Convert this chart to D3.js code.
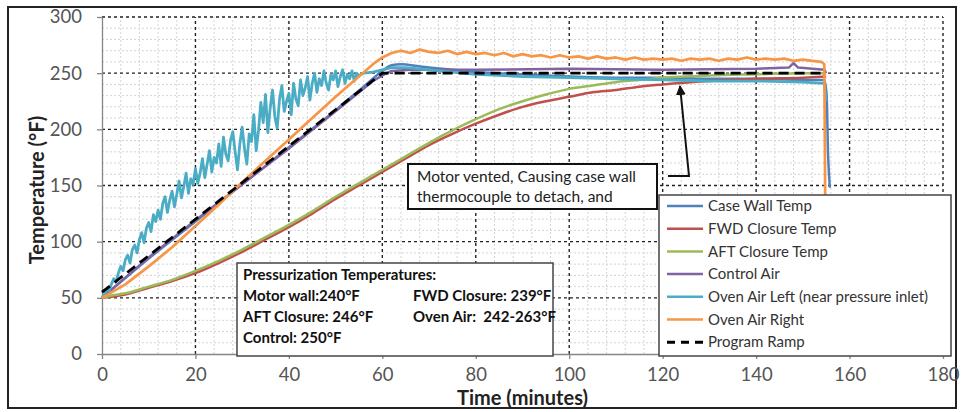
<!DOCTYPE html>
<html lang="en">
<head>
<meta charset="UTF-8" />
<title>Temperature vs Time</title>
<script src="https://d3js.org/d3.v7.min.js"></script>
<style>
  body { margin: 0; background: #fff; }
  svg { font-family: Lato, "Open Sans", sans-serif; }
</style>
</head>
<body>
<svg></svg>
<script>
var width = 963;
var height = 412;
var margin = { top: 17, right: 20, bottom: 58, left: 102 };

// ---- data (minutes, degF) ----
var rampTime = [0, 60, 155];
var rampTemp = [55, 250, 250];

var caseTime = [0, 10, 20, 30, 40, 50, 56, 60, 62, 64, 68, 75, 80, 90, 100, 110, 120, 130, 140, 150, 154.6, 155.1, 155.4, 155.6, 155.8];
var caseTemp = [50, 85, 118, 151, 184, 217, 238, 252, 257, 258, 256, 253, 251, 249, 247, 246, 246, 245, 245, 244, 244, 230, 178, 160, 148];

var fwdTime = [0, 2, 5, 10, 15, 20, 25, 30, 35, 40, 45, 50, 55, 60, 65, 70, 75, 80, 85, 90, 95, 100, 105, 110, 115, 120, 130, 140, 150, 155];
var fwdTemp = [50, 51, 53, 59, 65, 72, 81, 91, 102, 113, 125, 138, 150, 162, 174, 186, 196, 205, 213, 220, 225, 229, 233, 235, 238, 240, 243, 245, 246, 247];

var aftTime = [0, 2, 5, 10, 15, 20, 25, 30, 35, 40, 45, 50, 55, 60, 65, 70, 75, 80, 85, 90, 95, 100, 105, 110, 115, 120, 130, 140, 150, 155];
var aftTemp = [50, 52, 54, 60, 66, 74, 83, 93, 104, 115, 127, 140, 152, 164, 176, 188, 199, 209, 218, 225, 231, 236, 239, 242, 244, 246, 248, 249, 250, 250];

var controlTime = [0, 10, 20, 30, 40, 50, 58, 60, 62, 66, 80, 100, 120, 140, 147, 148, 149, 154.6, 155];
var controlTemp = [50, 86, 119, 151, 183, 216, 243, 248, 252, 253, 253, 254, 253, 254, 255, 259, 255, 253, 250];

var ovenLeftTime = [
  0, 0.5, 1, 1.5, 2, 2.5, 3, 3.5, 4, 4.5, 5, 5.5, 6, 6.5, 7, 7.5, 8, 8.5, 9, 9.5,
  10, 10.5, 11, 11.5, 12, 12.5, 13, 13.5, 14, 14.5, 15, 15.5, 16, 16.5, 17, 17.5, 18, 18.5, 19, 19.5,
  20, 20.5, 21, 21.5, 22, 22.5, 23, 23.5, 24, 24.5, 25, 25.5, 26, 26.5, 27, 27.5, 28, 28.5, 29, 29.5,
  30, 30.5, 31, 31.5, 32, 32.5, 33, 33.5, 34, 34.5, 35, 35.5, 36, 36.5, 37, 37.5, 38, 38.5, 39, 39.5,
  40, 40.5, 41, 41.5, 42, 42.5, 43, 43.5, 44, 44.5, 45, 45.5, 46, 46.5, 47, 47.5, 48, 48.5, 49, 49.5,
  50, 50.5, 51, 51.5, 52, 52.5, 53, 53.5, 54, 54.5, 55,
  56, 58, 60, 62, 65, 70, 75, 80, 90, 100, 110, 120, 130, 140, 150, 154.6, 155];
var ovenLeftTemp = [
  50, 53, 57, 56, 62, 67, 64, 72, 78, 74, 84, 88, 81, 93, 97, 90, 102, 108, 99, 112,
  117, 109, 124, 118, 128, 120, 134, 140, 126, 137, 145, 131, 142, 154, 139, 149, 161, 143, 156, 151,
  165, 152, 161, 174, 157, 169, 181, 162, 175, 170, 187, 167, 193, 178, 172, 190, 198, 180, 164, 187,
  202, 183, 169, 196, 189, 213, 181, 199, 224, 206, 231, 197, 219, 235, 211, 201, 227, 239, 216, 225,
  232, 213, 241, 227, 221, 244, 230, 237, 247, 226, 241, 250, 233, 245, 239, 252, 241, 235, 249, 244,
  252, 238, 247, 253, 241, 249, 245, 252, 243, 250, 248,
  250, 251, 253, 255, 255, 253, 251, 249, 247, 246, 245, 244, 243, 243, 242, 241, 225];

var ovenRightTime = [0, 5, 10, 15, 20, 25, 30, 35, 40, 45, 50, 55, 58, 60, 62,
  64, 66, 68, 70, 72, 74, 76, 78, 80, 82, 84, 86, 88, 90, 92, 94, 96, 98, 100, 102, 104, 106, 108,
  110, 112, 114, 116, 118, 120, 122, 124, 126, 128, 130, 132, 134, 136, 138, 140, 142, 144, 146,
  148, 150, 152, 154, 154.6, 155];
var ovenRightTemp = [50, 62, 78, 95, 114, 133, 153, 172, 191, 210, 229, 247, 258, 264, 268,
  270, 268, 271, 269, 268, 270, 267, 269, 267, 268, 266, 268, 265, 267, 265, 266, 264, 266, 264, 265, 263, 265, 263,
  264, 262, 264, 262, 263, 262, 263, 261, 263, 262, 263, 261, 263, 262, 264, 262, 263, 262, 263,
  261, 262, 261, 260, 258, 2];

var seriesNames = ["Case Wall Temp", "FWD Closure Temp", "AFT Closure Temp", "Control Air",
  "Oven Air Left (near pressure inlet)", "Oven Air Right", "Program Ramp"];
var seriesColors = ["#4F81BD", "#C0504D", "#9BBB59", "#8064A2", "#4BACC6", "#F79646", "#000000"];

var xTicks = d3.range(0, 181, 20);
var yTicks = d3.range(0, 301, 50);

var pressLines = [
  ["Pressurization Temperatures:", ""],
  ["Motor wall:240°F", "FWD Closure: 239°F"],
  ["AFT Closure: 246°F", "Oven Air:\u00a0 242-263°F"],
  ["Control: 250°F", ""]
];
var noteLines = ["Motor vented, Causing case wall", "thermocouple to detach, and"];

// ---- build ----
function zip(t, v) { return t.map(function (d, i) { return [d, v[i]]; }); }
var series = [
  { values: zip(caseTime, caseTemp), curve: d3.curveMonotoneX },
  { values: zip(fwdTime, fwdTemp), curve: d3.curveMonotoneX },
  { values: zip(aftTime, aftTemp), curve: d3.curveMonotoneX },
  { values: zip(controlTime, controlTemp), curve: d3.curveLinear },
  { values: zip(ovenLeftTime, ovenLeftTemp), curve: d3.curveLinear, w: 2.8 },
  { values: zip(ovenRightTime, ovenRightTemp), curve: d3.curveLinear, w: 2.7 },
  { values: zip(rampTime, rampTemp), curve: d3.curveLinear, dash: "10,6", w: 2.8 }
];

var svg = d3.select("svg").attr("width", width).attr("height", height);

svg.append("rect")
  .attr("x", 8).attr("y", 7).attr("width", 948).attr("height", 401)
  .attr("fill", "#fff").attr("stroke", "#222").attr("stroke-width", 2);

var x = d3.scaleLinear().domain([0, 180]).range([margin.left, width - margin.right]);
var y = d3.scaleLinear().domain([0, 300]).range([height - margin.bottom, margin.top]);

// minor grid
var grid = svg.append("g");
grid.selectAll(".mx").data(d3.range(4, 180, 4).filter(function (d) { return d % 20; }))
  .join("line").attr("class", "mx")
  .attr("x1", function (d) { return x(d); }).attr("x2", function (d) { return x(d); })
  .attr("y1", y(0)).attr("y2", y(300))
  .attr("stroke", "#d4d4d4").attr("stroke-dasharray", "2,2");
grid.selectAll(".my").data(d3.range(10, 300, 10).filter(function (d) { return d % 50; }))
  .join("line").attr("class", "my")
  .attr("y1", function (d) { return y(d); }).attr("y2", function (d) { return y(d); })
  .attr("x1", x(0)).attr("x2", x(180))
  .attr("stroke", "#d4d4d4").attr("stroke-dasharray", "2,2");
// major grid
grid.selectAll(".gx").data(xTicks.slice(1))
  .join("line").attr("class", "gx")
  .attr("x1", function (d) { return x(d); }).attr("x2", function (d) { return x(d); })
  .attr("y1", y(0)).attr("y2", y(300))
  .attr("stroke", "#222").attr("stroke-width", 1.4).attr("stroke-dasharray", "3,3");
grid.selectAll(".gy").data(yTicks.slice(1))
  .join("line").attr("class", "gy")
  .attr("y1", function (d) { return y(d); }).attr("y2", function (d) { return y(d); })
  .attr("x1", x(0)).attr("x2", x(180))
  .attr("stroke", "#222").attr("stroke-width", 1.4).attr("stroke-dasharray", "3,3");

// axes
var xAxis = svg.append("g")
  .attr("transform", "translate(0," + y(0) + ")")
  .call(d3.axisBottom(x).tickValues(xTicks).tickSize(5).tickSizeOuter(0).tickPadding(9));
var yAxis = svg.append("g")
  .attr("transform", "translate(" + x(0) + ",0)")
  .call(d3.axisLeft(y).tickValues(yTicks).tickSize(5).tickSizeOuter(0).tickPadding(15));
[xAxis, yAxis].forEach(function (a) {
  a.selectAll("path, line").attr("stroke", "#868686").attr("stroke-width", 1.3);
  a.selectAll("text").attr("fill", "#555").style("font-size", "18.5px").style("font-family", "Lato, sans-serif");
});

// lines
var line = d3.line().x(function (d) { return x(d[0]); }).y(function (d) { return y(d[1]); });
svg.append("g").selectAll("path").data(series).join("path")
  .attr("d", function (d) { return line.curve(d.curve)(d.values); })
  .attr("fill", "none")
  .attr("stroke", function (d, i) { return seriesColors[i]; })
  .attr("stroke-width", function (d) { return d.w || 2.5; })
  .attr("stroke-dasharray", function (d) { return d.dash || null; })
  .attr("stroke-linejoin", "round");

// axis titles
svg.append("text")
  .attr("x", (x(0) + x(180)) / 2).attr("y", 405)
  .attr("text-anchor", "middle")
  .style("font-size", "20px").style("font-weight", "bold").attr("fill", "#222")
  .text("Time (minutes)");
svg.append("text")
  .attr("transform", "translate(44,190) rotate(-90)")
  .attr("text-anchor", "middle")
  .style("font-size", "20px").style("font-weight", "bold").attr("fill", "#222")
  .text("Temperature (°F)");

// annotation with arrow
svg.append("defs").append("marker")
  .attr("id", "arr").attr("viewBox", "0 0 10 10").attr("refX", 9).attr("refY", 5)
  .attr("markerWidth", 5).attr("markerHeight", 5).attr("orient", "auto")
  .append("path").attr("d", "M0,0L10,5L0,10z").attr("fill", "#111");
svg.append("polyline")
  .attr("points", "668,176 689,176 680,86")
  .attr("fill", "none").attr("stroke", "#111").attr("stroke-width", 2)
  .attr("marker-end", "url(#arr)");
svg.append("rect")
  .attr("x", 408).attr("y", 164).attr("width", 249).attr("height", 45)
  .attr("fill", "#fff").attr("stroke", "#111").attr("stroke-width", 2);
svg.append("g").selectAll("text").data(noteLines).join("text")
  .attr("x", 417).attr("y", function (d, i) { return 182 + i * 20; })
  .style("font-size", "15.5px").attr("fill", "#222")
  .text(function (d) { return d; });

// pressurization box
svg.append("rect")
  .attr("x", 237).attr("y", 263).attr("width", 316).attr("height", 93)
  .attr("fill", "#fff").attr("stroke", "#444").attr("stroke-width", 1.5);
var pg = svg.append("g").style("font-size", "15px").style("font-weight", "bold").attr("fill", "#111");
pressLines.forEach(function (row, i) {
  pg.append("text").attr("x", 243).attr("y", 280 + i * 21).text(row[0]);
  if (row[1]) pg.append("text").attr("x", 413).attr("y", 280 + i * 21).text(row[1]);
});

// legend
svg.append("rect")
  .attr("x", 659).attr("y", 195).attr("width", 292).attr("height", 161)
  .attr("fill", "#fff").attr("stroke", "#444").attr("stroke-width", 1.5);
var lg = svg.append("g").selectAll("g").data(seriesNames).join("g")
  .attr("transform", function (d, i) { return "translate(667," + (206 + i * 22.7) + ")"; });
lg.append("line").attr("x1", 0).attr("x2", 36)
  .attr("stroke", function (d, i) { return seriesColors[i]; })
  .attr("stroke-width", function (d, i) { return i === 6 ? 3 : 2.5; })
  .attr("stroke-dasharray", function (d, i) { return i === 6 ? "8,6" : null; });
lg.append("text").attr("x", 41).attr("dy", "0.35em")
  .style("font-size", "15px").attr("fill", "#333")
  .text(function (d) { return d; });
</script>
</body>
</html>
